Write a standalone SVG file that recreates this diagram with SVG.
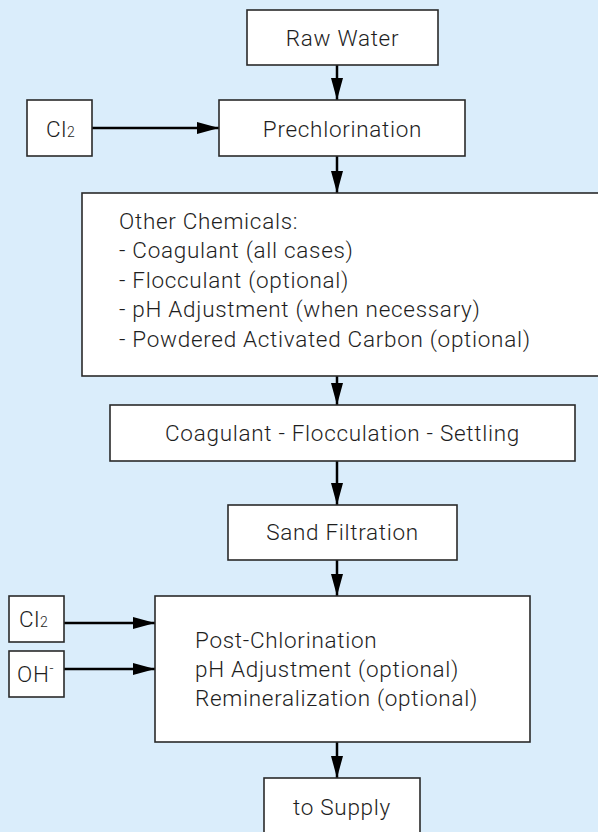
<svg xmlns="http://www.w3.org/2000/svg" width="598" height="832" viewBox="0 0 598 832">
<defs>
<style>
.bx{fill:#fff;stroke:#2a2a2a;stroke-width:1.6}
.t{font-family:Roboto,"Liberation Sans",Arial,sans-serif;font-weight:300;font-size:22.5px;fill:#1e1e1e;letter-spacing:0.7px}
.c{text-anchor:middle}
.s{font-size:14px;letter-spacing:0}
.ln{stroke:#000;stroke-width:2.5;fill:none}
</style>
<marker id="ah" markerWidth="22" markerHeight="12" refX="22" refY="6" orient="auto" markerUnits="userSpaceOnUse">
<path d="M0,0 L22,6 L0,12 Z" fill="#000"/>
</marker>
</defs>
<rect x="0" y="0" width="598" height="832" fill="#daedfb"/>
<g id="connectors">
<line class="ln" x1="337" y1="65" x2="337" y2="100" marker-end="url(#ah)"/>
<line class="ln" x1="92" y1="128" x2="219" y2="128" marker-end="url(#ah)"/>
<line class="ln" x1="337" y1="156" x2="337" y2="193" marker-end="url(#ah)"/>
<line class="ln" x1="337" y1="376" x2="337" y2="405" marker-end="url(#ah)"/>
<line class="ln" x1="337" y1="461" x2="337" y2="505" marker-end="url(#ah)"/>
<line class="ln" x1="337" y1="560" x2="337" y2="596" marker-end="url(#ah)"/>
<line class="ln" x1="64" y1="623" x2="155" y2="623" marker-end="url(#ah)"/>
<line class="ln" x1="64" y1="669" x2="155" y2="669" marker-end="url(#ah)"/>
<line class="ln" x1="337" y1="742" x2="337" y2="778" marker-end="url(#ah)"/>
</g>
<g id="raw-water">
<rect class="bx" x="247" y="10" width="191" height="55"/>
<text class="t c" x="342.5" y="46">Raw Water</text>
</g>
<g id="cl2-pre">
<rect class="bx" x="27" y="100" width="65" height="56"/>
<text class="t" x="46" y="137">Cl<tspan class="s">2</tspan></text>
</g>
<g id="prechlorination">
<rect class="bx" x="219" y="100" width="246" height="56"/>
<text class="t c" x="342.5" y="137">Prechlorination</text>
</g>
<g id="other-chemicals">
<rect class="bx" x="82" y="193" width="530" height="183"/>
<text class="t" x="119" y="229">Other  Chemicals:</text>
<text class="t" x="119" y="258">- Coagulant (all cases)</text>
<text class="t" x="119" y="288">- Flocculant (optional)</text>
<text class="t" x="119" y="317">- pH Adjustment (when necessary)</text>
<text class="t" x="119" y="347">- Powdered Activated Carbon (optional)</text>
</g>
<g id="coagulation">
<rect class="bx" x="110" y="405" width="465" height="56"/>
<text class="t c" x="342.5" y="441">Coagulant - Flocculation - Settling</text>
</g>
<g id="sand-filtration">
<rect class="bx" x="228" y="505" width="229" height="55"/>
<text class="t c" x="342.5" y="540">Sand Filtration</text>
</g>
<g id="cl2-post">
<rect class="bx" x="9" y="596" width="55" height="46"/>
<text class="t" x="19" y="627">Cl<tspan class="s">2</tspan></text>
</g>
<g id="oh">
<rect class="bx" x="9" y="651" width="55" height="46"/>
<text class="t" x="17" y="682">OH<tspan class="s" dy="-9">-</tspan></text>
</g>
<g id="post-chlorination">
<rect class="bx" x="155" y="596" width="375" height="146"/>
<text class="t" x="195" y="648">Post-Chlorination</text>
<text class="t" x="195" y="677">pH Adjustment (optional)</text>
<text class="t" x="195" y="706">Remineralization (optional)</text>
</g>
<g id="to-supply">
<rect class="bx" x="264" y="778" width="156" height="70"/>
<text class="t c" x="342" y="815">to Supply</text>
</g>
</svg>
